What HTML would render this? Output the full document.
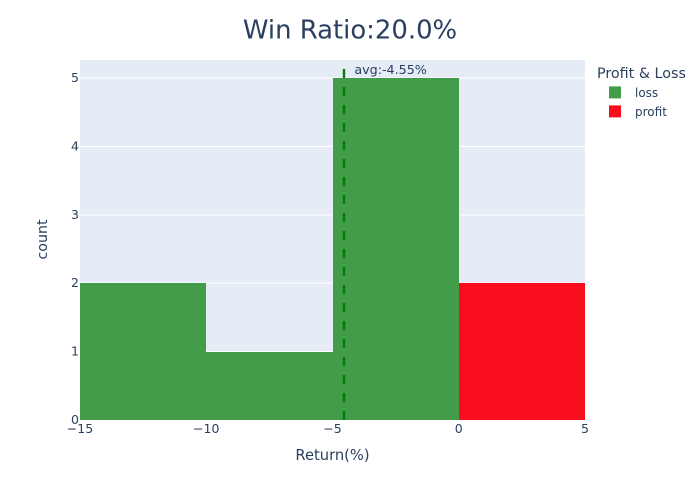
<!DOCTYPE html>
<html>
<head>
<meta charset="utf-8">
<style>
html,body{margin:0;padding:0;background:#fff;}
svg{display:block;font-family:"DejaVu Sans","Liberation Sans",sans-serif;}
</style>
</head>
<body>
<svg id="chart" width="700" height="500" viewBox="0 0 700 500" xmlns="http://www.w3.org/2000/svg">
<rect x="0" y="0" width="700" height="500" fill="#fff"/>
<rect x="80" y="60" width="505" height="360" fill="#e5ecf6"/>
<g id="grid" shape-rendering="crispEdges"></g>
<g id="bars"></g>
<g id="ref"></g>
<g id="xticks"></g>
<g id="yticks"></g>
<text x="350" y="38.5" text-anchor="middle" font-size="25.9" fill="#2a3f5f">Win Ratio:20.0%</text>
<text x="332.5" y="460" text-anchor="middle" font-size="14.7" fill="#2a3f5f">Return(%)</text>
<text x="47" y="239.5" text-anchor="middle" font-size="14.2" fill="#2a3f5f" transform="rotate(-90 47 239.5)">count</text>
<g>
<text x="597" y="78" font-size="14.3" fill="#2a3f5f">Profit &amp; Loss</text>
<g>
<rect x="609" y="86.4" width="12" height="12" fill="#429c49"/>
<text x="635" y="97" font-size="12" fill="#2a3f5f">loss</text>
</g>
<g>
<rect x="609" y="105.4" width="12" height="12" fill="#f70d1b"/>
<text x="635" y="116" font-size="12" fill="#2a3f5f">profit</text>
</g>
</g>
</svg>
<script>
const binStarts = [-15, -10, -5, 0];
const binCounts = [2, 1, 5, 2];
const binGroups = ['loss', 'loss', 'loss', 'profit'];
const binWidth = 5;
const xTickValues = [-15, -10, -5, 0, 5];
const yTickValues = [0, 1, 2, 3, 4, 5];
const averageReturn = -4.55;
const averageLabel = 'avg:-4.55%';

const NS = 'http://www.w3.org/2000/svg';
const plot = {left: 80, right: 585, top: 60, bottom: 420};
const xDomain = [-15, 5];
const yDomain = [0, 5.2632];
const groupColors = {loss: '#429c49', profit: '#f70d1b'};
function xScale(v) {
  return plot.left + (v - xDomain[0]) / (xDomain[1] - xDomain[0]) * (plot.right - plot.left);
}
function yScale(v) {
  return plot.bottom - (v - yDomain[0]) / (yDomain[1] - yDomain[0]) * (plot.bottom - plot.top);
}
function make(tag, attrs, parent) {
  const el = document.createElementNS(NS, tag);
  Object.keys(attrs).forEach(function (k) { el.setAttribute(k, attrs[k]); });
  parent.appendChild(el);
  return el;
}
const gridGroup = document.getElementById('grid');
const barGroup = document.getElementById('bars');
const refGroup = document.getElementById('ref');
const xTickGroup = document.getElementById('xticks');
const yTickGroup = document.getElementById('yticks');

yTickValues.forEach(function (v) {
  if (v === 0) return;
  const line = make('line', {x1: plot.left, x2: plot.right, y1: yScale(v), y2: yScale(v), stroke: '#fff', 'stroke-width': 1}, gridGroup);
  
  
});

binStarts.forEach(function (start, i) {
  const x0 = Math.round(xScale(start));
  const x1 = Math.round(xScale(start + binWidth));
  const y = Math.round(yScale(binCounts[i]));
  const bar = make('rect', {x: x0, y: y, width: x1 - x0, height: yScale(0) - y, fill: groupColors[binGroups[i]]}, barGroup);
  
  
});

const refX = Math.round(xScale(averageReturn));
const refLine = make('line', {x1: refX, x2: refX, y1: 69, y2: plot.bottom, stroke: 'green', 'stroke-width': 2.4, 'stroke-dasharray': '9,9'}, refGroup);


const refText = make('text', {x: xScale(averageReturn) + 10.5, y: 74, 'font-size': 12.7, fill: '#2a3f5f'}, refGroup);
refText.textContent = averageLabel;



function fmt(v) {
  return v < 0 ? '\u2212' + Math.abs(v) : String(v);
}
xTickValues.forEach(function (v) {
  const t = make('text', {x: xScale(v), y: 433, 'text-anchor': 'middle', 'font-size': 12.5, fill: '#2a3f5f'}, xTickGroup);
  t.textContent = fmt(v);
  
  
});
yTickValues.forEach(function (v) {
  const t = make('text', {x: 79, y: yScale(v) + 4, 'text-anchor': 'end', 'font-size': 12.5, fill: '#2a3f5f'}, yTickGroup);
  t.textContent = fmt(v);
  
  
});
</script>
</body>
</html>
